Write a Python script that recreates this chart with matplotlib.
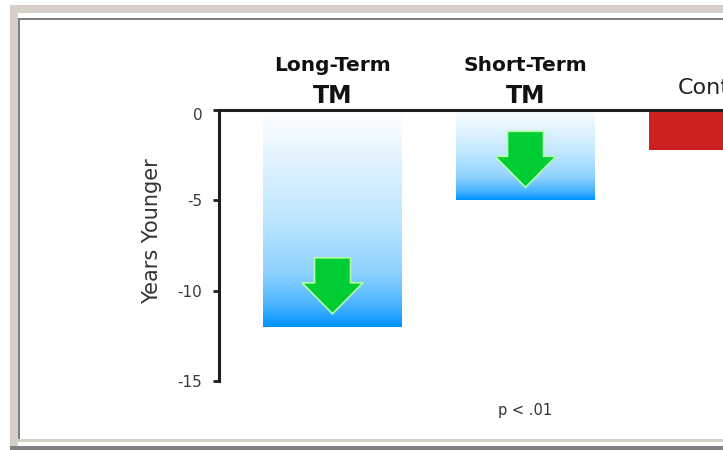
import numpy as np
import matplotlib
matplotlib.use("Agg")
import matplotlib.pyplot as plt
from matplotlib.colors import LinearSegmentedColormap
from matplotlib.patches import Polygon, Rectangle
from matplotlib import transforms as mtrans

# ---- data ----
categories = ["Long-Term", "Short-Term", "Control"]
sublabels = ["TM", "TM", ""]
years_younger = [-12.0, -5.0, -2.2]
tm_flags = [True, True, False]
y_ticks = [0, -5, -10, -15]
y_tick_labels = ["0", "-5", "-10", "-15"]
note = "p < .01"

W, H = 723, 450
fig = plt.figure(figsize=(W / 100, H / 100), dpi=100)
fig.patch.set_facecolor("white")

def px_rect(x0, y0, x1, y1, color):
    fig.patches.append(Rectangle((x0 / W, 1 - y1 / H), (x1 - x0) / W, (y1 - y0) / H,
                                 transform=fig.transFigure, facecolor=color,
                                 edgecolor="none", zorder=0))

# window-like frame
px_rect(10, 5, 723, 13, "#d4d0c8")
px_rect(10, 5, 18, 446, "#d4d0c8")
px_rect(18, 439, 723, 442, "#d4d0c8")
px_rect(10, 446, 723, 450, "#808080")
px_rect(18, 18, 723, 20, "#808080")
px_rect(18, 18, 20, 439, "#808080")

# axes placement
ax_left, ax_top, ax_bottom = 219, 110, 381
ax = fig.add_axes([ax_left / W, 1 - ax_bottom / H, (W - ax_left) / W, (ax_bottom - ax_top) / H])
ax.set_facecolor("none")
unit = 193.0
c0 = 332.5
bar_w = 139 / unit

cmap = LinearSegmentedColormap.from_list(
    "tmblue",
    [(0.0, "#ffffff"), (0.5, "#bde6ff"), (0.75, "#8fd2ff"), (0.9, "#4ab4ff"), (1.0, "#0092ff")])
grad = np.linspace(0, 1, 256).reshape(-1, 1)

for i, (cat, val, tm) in enumerate(zip(categories, years_younger, tm_flags)):
    if tm:
        ax.imshow(grad, cmap=cmap, aspect="auto", interpolation="bilinear",
                  extent=(i - bar_w / 2, i + bar_w / 2, val, 0), zorder=1)
        # green down arrow (pixel offsets relative to bar end)
        s = fig.dpi / 100
        verts = [(0, 13), (-30.5, 44), (-18, 44), (-18, 69), (18, 69), (18, 44), (30.5, 44)]
        tr = mtrans.Affine2D().scale(s) + mtrans.ScaledTranslation(i, val, ax.transData)
        ax.add_patch(Polygon(verts, closed=True, transform=tr, facecolor="#00cc33",
                             edgecolor="#b4ffa8", linewidth=1.2, zorder=3, clip_on=False))
    else:
        ax.bar(i, val, width=bar_w, color="#cd2121", zorder=1)

ax.set_xlim((ax_left - c0) / unit, (W - c0) / unit)
ax.set_ylim(-15, 0)

for side in ["right", "bottom"]:
    ax.spines[side].set_visible(False)
for side in ["left", "top"]:
    ax.spines[side].set_color("#1e1e1e")
    ax.spines[side].set_linewidth(2.2)
    ax.spines[side].set_zorder(5)
ax.set_xticks([])
ax.set_yticks(y_ticks)
ax.set_yticklabels(y_tick_labels, fontsize=11, color="#3a3a3a", family="DejaVu Sans")
ax.tick_params(axis="y", length=4, width=2, color="#1e1e1e", pad=8)
# the "0" label sits slightly lower in the reference
zero_lbl = ax.get_yticklabels()[0]
zero_lbl.set_transform(zero_lbl.get_transform() +
                       mtrans.ScaledTranslation(0, -4 / 100, fig.dpi_scale_trans))

# category labels
blend = mtrans.blended_transform_factory(ax.transData, fig.transFigure)
for i, (cat, sub, tm) in enumerate(zip(categories, sublabels, tm_flags)):
    if tm:
        ax.text(i, 1 - 71 / H, cat, transform=blend, ha="center", va="baseline",
                fontsize=14.5, fontweight="bold", color="#111111", clip_on=False)
        ax.text(i, 1 - 103 / H, sub, transform=blend, ha="center", va="baseline",
                fontsize=17, fontweight="bold", color="#111111", clip_on=False)
    else:
        ax.text(i, 1 - 94 / H, cat, transform=blend, ha="center", va="baseline",
                fontsize=16, color="#222222", clip_on=False)

fig.text(152 / W, 1 - 231 / H, "Years Younger", rotation=90, ha="center", va="center",
         fontsize=15, color="#333333")
ax.text(1, 1 - 415 / H, note, transform=blend, ha="center", va="baseline",
        fontsize=10.5, color="#333333")

fig.savefig("out.png", dpi=100, facecolor="white")
